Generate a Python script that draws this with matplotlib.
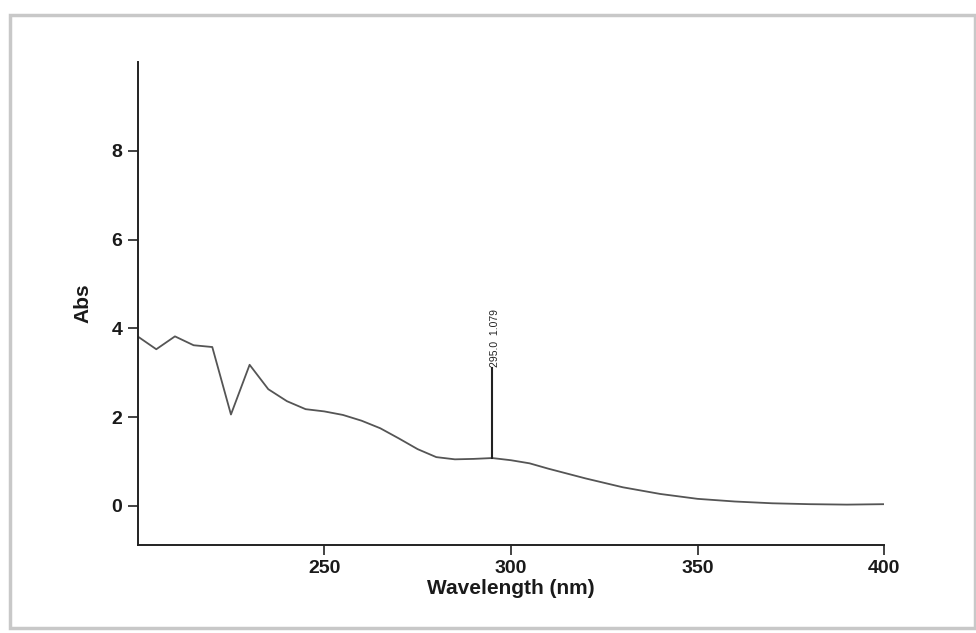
import matplotlib
matplotlib.use("Agg")
import matplotlib.pyplot as plt
from matplotlib.patches import Rectangle

wavelength = [200, 205, 210, 215, 220, 225, 230, 235, 240, 245, 250, 255, 260,
              265, 270, 275, 280, 285, 290, 295, 300, 305, 310, 320, 330, 340,
              350, 360, 370, 380, 390, 400]
absorbance = [3.82, 3.53, 3.82, 3.62, 3.58, 2.06, 3.18, 2.63, 2.36, 2.18, 2.13,
              2.05, 1.92, 1.75, 1.52, 1.28, 1.10, 1.05, 1.06, 1.079, 1.03, 0.96,
              0.84, 0.62, 0.42, 0.27, 0.16, 0.10, 0.06, 0.04, 0.03, 0.04]
peak_wl = 295.0
peak_abs = 1.079
x_ticks = [250, 300, 350, 400]
y_ticks = [0, 2, 4, 6, 8]

plt.rcParams['font.family'] = ['Liberation Sans', 'DejaVu Sans']

fig = plt.figure(figsize=(9.76, 6.33), dpi=100)
fig.patch.set_facecolor('white')

# scan frame around the picture
fig.patches.append(Rectangle((10/976, 5/633), 965/976, 613/633, transform=fig.transFigure,
                             fill=False, edgecolor='#c8c8c8', linewidth=2.5))

ax = fig.add_axes([0.141, 0.139, 0.765, 0.763])
ax.plot(wavelength, absorbance, color='#555555', linewidth=1.3)

# peak marker
ax.plot([peak_wl, peak_wl], [peak_abs, 3.1], color='#222222', linewidth=1.5)
ax.text(peak_wl + 0.6, 3.12, '295.0  1.079', rotation=90, fontsize=7.5,
        ha='center', va='bottom', color='#222222')

ax.set_xlim(200, 400)
ax.set_ylim(-0.88, 10.0)
ax.set_xticks(x_ticks)
ax.set_yticks(y_ticks)
for s in ['top', 'right']:
    ax.spines[s].set_visible(False)
for s in ['left', 'bottom']:
    ax.spines[s].set_linewidth(1.4)
    ax.spines[s].set_color('#222222')
ax.tick_params(axis='both', direction='out', length=7, width=1.2, color='#222222',
               labelsize=14, pad=4)
ax.tick_params(axis='x', pad=4)
for lab in ax.get_xticklabels() + ax.get_yticklabels():
    lab.set_fontweight('bold')
    lab.set_color('#1a1a1a')

ax.set_xlabel('Wavelength (nm)', fontsize=15, fontweight='bold', color='#1a1a1a', labelpad=1)
ax.set_ylabel('Abs', fontsize=15, fontweight='bold', color='#1a1a1a', labelpad=14)

fig.savefig('out.png', dpi=100)
